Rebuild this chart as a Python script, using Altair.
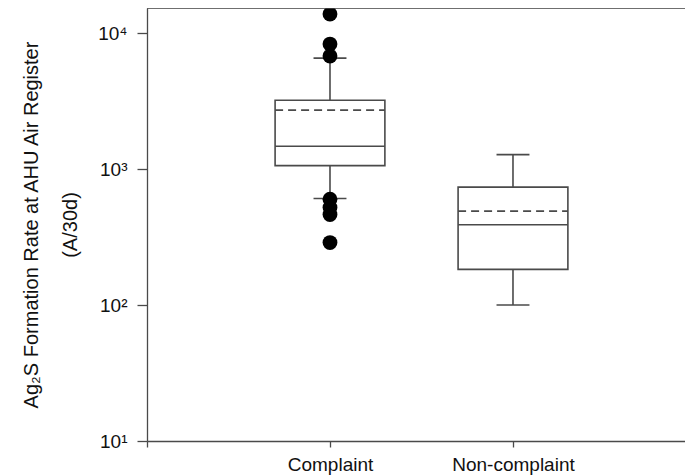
import altair as alt
import pandas as pd

# ---- data ----
categories = ["Complaint", "Non-complaint"]
positions = [1, 2]
q1 = [1060, 183]
medians = [1470, 389]
q3 = [3210, 736]
means = [2710, 490]
whisker_low = [608, 100]
whisker_high = [6540, 1276]
outlier_positions = [1, 1, 1, 1, 1, 1, 1]
outlier_values = [13800, 8300, 6770, 600, 522, 463, 288]
y_tick_values = [10, 100, 1000, 10000]
y_tick_labels = ["10¹", "10²", "10³", "10⁴"]
y_title = ["Ag₂S Formation Rate at AHU Air Register", "(A/30d)"]

# ---- style ----
BOX_HALF = 0.30
CAP_HALF = 0.09
LINE = "#4a4a4a"
FONT = "Liberation Sans"
W, H = 538, 433
X_MAX = 2.94

df = pd.DataFrame(dict(pos=positions, cat=categories, q1=q1, med=medians, q3=q3,
                       mean=means, lo=whisker_low, hi=whisker_high))
df["bx1"] = df["pos"] - BOX_HALF
df["bx2"] = df["pos"] + BOX_HALF
df["cx1"] = df["pos"] - CAP_HALF
df["cx2"] = df["pos"] + CAP_HALF
out = pd.DataFrame(dict(pos=outlier_positions, v=outlier_values))

x_scale = alt.Scale(domain=[0, X_MAX], nice=False, zero=False)
y_scale = alt.Scale(type="log", domain=[10, 15290], nice=False)

x_label_expr = " : ".join(
    f"datum.value == {p} ? '{c}'" for p, c in zip(positions, categories)) + " : ''"
y_label_expr = " : ".join(
    f"datum.value == {v} ? '{l}'" for v, l in zip(y_tick_values, y_tick_labels)) + " : ''"

x_axis = alt.Axis(values=[0] + positions, labelExpr=x_label_expr, title=None,
                  grid=False, tickSize=6, tickColor=LINE, domainColor=LINE,
                  domainWidth=1.3, tickWidth=1.3, labelFontSize=19, labelColor="#111",
                  labelPadding=8, labelFont=FONT)
y_axis = alt.Axis(values=y_tick_values, labelExpr=y_label_expr, title=y_title,
                  grid=False, tickSize=10, tickColor=LINE, domainColor=LINE,
                  domainWidth=1.3, tickWidth=1.3, labelFontSize=19, labelColor="#111",
                  labelPadding=10, labelFont=FONT, titleFont=FONT, titleFontSize=20,
                  titleFontWeight="normal", titleColor="#111", titleLineHeight=39,
                  titlePadding=17)


def X(f):
    return alt.X(f, type="quantitative", scale=x_scale, axis=x_axis)


def Y(f):
    return alt.Y(f, type="quantitative", scale=y_scale, axis=y_axis)


base = alt.Chart(df)

whisk_up = base.mark_rule(color=LINE, strokeWidth=1.6).encode(x=X("pos"), y=Y("q3"), y2="hi")
whisk_dn = base.mark_rule(color=LINE, strokeWidth=1.6).encode(x=X("pos"), y=Y("lo"), y2="q1")
cap_up = base.mark_rule(color=LINE, strokeWidth=1.6).encode(x=X("cx1"), x2="cx2", y=Y("hi"))
cap_dn = base.mark_rule(color=LINE, strokeWidth=1.6).encode(x=X("cx1"), x2="cx2", y=Y("lo"))
box = base.mark_rect(fill="white", stroke=LINE, strokeWidth=1.6).encode(
    x=X("bx1"), x2="bx2", y=Y("q1"), y2="q3")
med = base.mark_rule(color=LINE, strokeWidth=1.6).encode(x=X("bx1"), x2="bx2", y=Y("med"))
mean = base.mark_rule(color=LINE, strokeWidth=1.8, strokeDash=[8, 5]).encode(
    x=X("bx1"), x2="bx2", y=Y("mean"))
dots = alt.Chart(out).mark_circle(color="black", opacity=1, size=220).encode(
    x=X("pos"), y=Y("v"))
top = alt.Chart(pd.DataFrame({"a": [0]})).mark_rule(color=LINE, strokeWidth=1.3).encode(
    x=alt.value(0), x2=alt.value(W), y=alt.value(0))

chart = alt.layer(whisk_up, whisk_dn, cap_up, cap_dn, box, med, mean, dots, top).properties(
    width=W, height=H,
    autosize=alt.AutoSizeParams(type="none"),
    padding={"left": 139, "top": 0, "right": 0, "bottom": 40},
).configure_view(stroke=None).configure(font=FONT, background="white")

chart.save("out.html", embed_options={"renderer": "svg", "actions": False})
